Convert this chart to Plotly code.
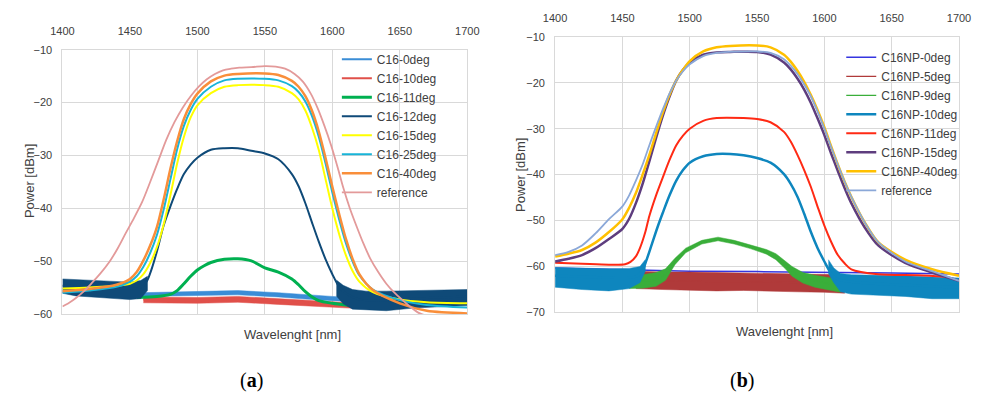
import plotly.graph_objects as go

# ---------------- Panel (a) data ----------------
a_legend = ["C16-0deg", "C16-10deg", "C16-11deg", "C16-12deg",
            "C16-15deg", "C16-25deg", "C16-40deg", "reference"]

a0_wl = [1440, 1460, 1480, 1500, 1530, 1560, 1580, 1600, 1620, 1640]
a0_p = [-56.4, -56.3, -56.1, -56.0, -55.9, -56.3, -56.7, -57.0, -57.3, -57.5]
a0_hi = [-56.0, -55.9, -55.7, -55.6, -55.5, -55.9, -56.3, -56.6, -56.9, -57.1]
a0_lo = [-56.8, -56.7, -56.5, -56.4, -56.3, -56.7, -57.1, -57.4, -57.7, -57.9]

a10_wl = [1460, 1480, 1500, 1530, 1560, 1590, 1610, 1620]
a10_p = [-57.2, -57.3, -57.3, -57.1, -57.5, -58.0, -58.3, -58.4]
a10_hi = [-56.7, -56.8, -56.8, -56.6, -57.0, -57.5, -57.8, -57.9]
a10_lo = [-57.8, -57.9, -57.9, -57.7, -58.1, -58.5, -58.8, -58.9]

a11_wl = [1455, 1470, 1480, 1485, 1490, 1495, 1500, 1505, 1510, 1520, 1530, 1540,
          1550, 1560, 1570, 1575, 1580, 1585, 1590, 1600, 1610, 1620]
a11_p = [-56.8, -56.6, -56.2, -55.5, -54.2, -52.8, -51.6, -50.8, -50.2, -49.6,
         -49.5, -49.9, -51.2, -52.0, -53.3, -54.4, -55.7, -56.7, -57.4, -57.9,
         -58.2, -58.4]

a12_wl = [1400, 1420, 1440, 1455, 1460, 1463, 1466, 1470, 1475, 1480, 1485, 1490,
          1495, 1500, 1510, 1520, 1530, 1540, 1550, 1560, 1570, 1575, 1580, 1585,
          1590, 1595, 1600, 1605, 1610, 1620, 1640, 1660, 1680, 1700]
a12_p = [-54.6, -54.7, -55.0, -55.1, -54.6, -53.5, -51.5, -48.1, -43.2, -39.6,
         -36.3, -33.5, -31.7, -30.4, -28.9, -28.6, -28.6, -29.1, -29.6, -30.7,
         -33.5, -35.8, -39.0, -42.7, -46.3, -49.6, -52.4, -54.8, -56.0, -57.2,
         -57.3, -57.0, -56.8, -56.6]
# noise envelope of the C16-12deg floor (left and right of the pass band)
a12L_wl = [1400, 1410, 1420, 1430, 1440, 1450, 1458, 1463]
a12L_hi = [-53.3, -53.4, -53.5, -53.6, -53.8, -53.9, -53.6, -52.8]
a12L_lo = [-56.0, -56.5, -56.6, -56.8, -57.0, -57.2, -57.0, -55.5]
a12R_wl = [1603, 1608, 1615, 1625, 1640, 1660, 1680, 1700]
a12R_hi = [-53.5, -54.5, -55.3, -55.6, -55.6, -55.5, -55.4, -55.3]
a12R_lo = [-56.5, -58.0, -59.0, -59.2, -59.3, -58.8, -58.5, -58.3]

a_wl = [1400, 1420, 1440, 1450, 1455, 1460, 1465, 1470, 1475, 1480, 1485, 1490,
        1495, 1500, 1510, 1520, 1530, 1550, 1560, 1570, 1575, 1580, 1585, 1590,
        1595, 1600, 1605, 1610, 1615, 1620, 1630, 1650, 1670, 1700]
a15_p = [-55.1, -54.9, -54.6, -54.2, -53.6, -52.4, -50.3, -47.3, -43.0, -37.5,
         -31.5, -26.5, -22.8, -20.5, -18.2, -17.0, -16.7, -16.7, -17.0, -18.2,
         -19.4, -21.5, -24.8, -29.0, -34.5, -40.0, -44.8, -48.8, -51.8, -53.8,
         -55.8, -57.2, -57.7, -57.9]
a25_p = [-55.9, -55.5, -54.8, -53.8, -52.8, -51.0, -48.4, -45.0, -40.2, -34.5,
         -28.8, -24.4, -21.4, -19.3, -17.0, -15.8, -15.5, -15.5, -15.8, -16.9,
         -18.0, -19.8, -22.6, -26.5, -31.5, -37.0, -42.0, -46.5, -50.0, -52.6,
         -55.3, -57.3, -58.2, -58.7]
a40_p = [-55.6, -55.2, -54.4, -53.3, -52.0, -49.8, -47.0, -43.5, -38.3, -32.5,
         -27.3, -23.1, -20.3, -18.3, -16.0, -14.9, -14.6, -14.5, -14.8, -15.9,
         -17.0, -18.8, -21.6, -25.5, -30.5, -35.9, -41.0, -45.7, -49.5, -52.4,
         -55.4, -57.9, -59.3, -59.8]

aref_wl = [1400, 1405, 1410, 1416, 1422, 1428, 1435, 1441, 1447, 1453, 1459, 1465,
           1471, 1477, 1483, 1489, 1495, 1501, 1507, 1513, 1519, 1525, 1531, 1540,
           1550, 1558, 1565, 1572, 1578, 1584, 1589, 1594, 1599, 1604, 1608, 1613,
           1618, 1623, 1628, 1634, 1640, 1646, 1652, 1658, 1664, 1670]
aref_p = [-58.5, -57.8, -56.9, -55.6, -54.0, -52.3, -50.0, -47.5, -44.6, -41.8,
          -38.8, -35.0, -31.0, -27.0, -23.7, -21.0, -18.8, -17.0, -15.6, -14.6,
          -13.9, -13.6, -13.4, -13.3, -13.1, -13.2, -13.6, -14.6, -16.0, -18.3,
          -21.0, -24.3, -28.0, -32.3, -36.0, -40.0, -43.4, -46.6, -49.4, -52.0,
          -54.2, -55.9, -57.3, -58.6, -59.7, -60.3]

# ---------------- Panel (b) data ----------------
b_legend = ["C16NP-0deg", "C16NP-5deg", "C16NP-9deg", "C16NP-10deg",
            "C16NP-11deg", "C16NP-15deg", "C16NP-40deg", "reference"]

b0_wl = [1400, 1450, 1500, 1550, 1600, 1650, 1700]
b0_p = [-60.3, -60.6, -61.0, -61.1, -61.2, -61.4, -61.6]

b5_wl = [1460, 1480, 1500, 1520, 1540, 1560, 1580, 1600, 1615]
b5_p = [-62.9, -63.1, -63.2, -63.3, -63.3, -63.4, -63.5, -63.6, -63.8]
b5_hi = [-61.0, -61.2, -61.2, -61.3, -61.3, -61.4, -61.5, -61.6, -61.8]
b5_lo = [-64.8, -65.0, -65.2, -65.3, -65.2, -65.3, -65.5, -65.6, -65.8]

b9_wl = [1455, 1465, 1475, 1482, 1489, 1497, 1509, 1521, 1533, 1545, 1557, 1564,
         1571, 1576, 1584, 1593, 1605, 1612]
b9_p = [-63.3, -63.2, -62.8, -61.7, -58.9, -56.5, -54.7, -54.0, -54.7, -55.7,
        -56.8, -57.8, -59.6, -61.0, -62.4, -63.1, -63.8, -64.2]
b9_hi = [-61.8, -61.8, -61.3, -60.5, -58.2, -56.0, -54.3, -53.6, -54.3, -55.3,
         -56.3, -57.2, -58.8, -60.0, -61.3, -61.9, -62.5, -62.8]
b9_lo = [-64.8, -64.7, -64.3, -63.0, -59.6, -57.0, -55.1, -54.4, -55.1, -56.1,
         -57.3, -58.5, -60.5, -62.1, -63.6, -64.5, -65.2, -65.6]

b10_wl = [1400, 1420, 1440, 1460, 1465, 1468, 1472, 1476, 1480, 1485, 1490, 1495,
          1500, 1510, 1520, 1530, 1540, 1550, 1560, 1570, 1575, 1580, 1585, 1590,
          1595, 1600, 1605, 1610, 1630, 1660, 1680, 1700]
b10_p = [-62.0, -62.2, -62.4, -62.2, -60.8, -58.5, -55.0, -51.5, -48.3, -44.5,
         -41.3, -39.0, -37.4, -36.0, -35.5, -35.5, -35.8, -36.4, -37.4, -39.9,
         -42.0, -44.8, -48.5, -52.5, -56.0, -58.9, -61.5, -62.8, -63.6, -64.0,
         -64.3, -64.5]
# noise envelope of the C16NP-10deg floor
b10L_wl = [1400, 1420, 1440, 1455, 1463, 1467]
b10L_hi = [-60.2, -60.4, -60.5, -60.4, -60.0, -58.5]
b10L_lo = [-64.5, -65.0, -65.3, -64.8, -63.5, -61.0]
b10R_wl = [1603, 1607, 1612, 1620, 1640, 1660, 1680, 1700]
b10R_hi = [-58.5, -60.3, -61.5, -61.8, -61.9, -62.0, -62.3, -62.5]
b10R_lo = [-61.5, -63.5, -65.5, -66.0, -66.3, -66.5, -67.0, -67.0]

b11_wl = [1400, 1420, 1440, 1452, 1456, 1460, 1463, 1467, 1470, 1475, 1480, 1485,
          1490, 1495, 1500, 1510, 1520, 1540, 1550, 1560, 1570, 1575, 1580, 1585,
          1590, 1595, 1600, 1605, 1610, 1615, 1620, 1640, 1670, 1690]
b11_p = [-59.2, -59.4, -59.6, -59.5, -59.0, -57.8, -56.0, -52.5, -49.0, -44.5,
         -40.6, -36.8, -33.6, -31.5, -30.0, -28.3, -27.7, -27.7, -27.9, -28.6,
         -30.7, -32.8, -35.7, -39.0, -42.7, -47.0, -51.1, -54.6, -57.5, -59.3,
         -60.6, -61.7, -61.9, -62.2]

b_wl = [1400, 1410, 1420, 1430, 1440, 1450, 1455, 1460, 1465, 1470, 1475, 1480,
        1485, 1490, 1495, 1500, 1510, 1520, 1530, 1550, 1560, 1570, 1575, 1580,
        1585, 1590, 1595, 1600, 1605, 1610, 1615, 1620, 1630, 1640, 1660, 1680,
        1700]
b15_p = [-58.9, -58.3, -57.5, -56.0, -54.0, -51.8, -49.6, -46.2, -42.0, -37.1,
         -32.0, -27.2, -23.0, -19.5, -17.2, -15.6, -13.9, -13.4, -13.3, -13.3,
         -13.9, -15.6, -17.1, -19.1, -21.5, -24.4, -27.8, -31.4, -35.4, -39.2,
         -42.9, -46.2, -51.5, -55.4, -59.2, -61.3, -63.1]
b40_p = [-57.8, -57.2, -56.4, -54.8, -52.5, -49.7, -47.2, -44.0, -40.0, -35.7,
         -31.0, -26.5, -22.6, -19.5, -17.2, -15.3, -13.2, -12.3, -12.0, -11.9,
         -12.3, -13.9, -15.4, -17.4, -19.8, -22.7, -26.0, -29.7, -33.8, -37.8,
         -41.5, -44.8, -50.4, -54.7, -58.5, -60.6, -62.0]
bref_p = [-57.5, -56.8, -55.4, -52.8, -49.7, -46.9, -44.5, -41.3, -37.8, -33.6,
          -29.6, -25.8, -22.3, -19.5, -17.5, -16.0, -14.2, -13.5, -13.3, -13.2,
          -13.5, -14.9, -16.3, -18.1, -20.4, -23.0, -26.3, -30.0, -34.0, -37.8,
          -41.5, -44.8, -50.4, -54.7, -58.9, -61.0, -63.1]

# ---------------- Styles ----------------
a_colors = ["#3A8DD6", "#E0504A", "#00B050", "#0F4A78",
            "#FFFF00", "#18B4D8", "#F98E3A", "#E39A9A"]
b_colors = ["#3535E0", "#B03A3A", "#3AAE3A", "#0E86BE",
            "#FF2A14", "#5E3D7E", "#FFC000", "#8BA8D8"]

FONT = "Liberation Sans, Arial, sans-serif"
TXT = "#404040"

fig = go.Figure()


def band(x, lo, hi, color, xa, ya):
    fig.add_trace(go.Scatter(
        x=list(x) + list(x)[::-1], y=list(hi) + list(lo)[::-1],
        fill="toself", fillcolor=color, mode="lines",
        line=dict(width=0.5, color=color), hoverinfo="skip",
        showlegend=False, xaxis=xa, yaxis=ya))


def line(x, y, name, color, width, xa, ya, legend, shape="spline"):
    fig.add_trace(go.Scatter(
        x=x, y=y, name=name, mode="lines",
        line=dict(color=color, width=width, shape=shape, smoothing=0.8),
        xaxis=xa, yaxis=ya, legend=legend))


# Panel (a)
band(a0_wl, a0_lo, a0_hi, a_colors[0], "x", "y")
line(a0_wl, a0_p, a_legend[0], a_colors[0], 2, "x", "y", "legend")
band(a10_wl, a10_lo, a10_hi, a_colors[1], "x", "y")
line(a10_wl, a10_p, a_legend[1], a_colors[1], 2, "x", "y", "legend")
line(a11_wl, a11_p, a_legend[2], a_colors[2], 3, "x", "y", "legend")
band(a12L_wl, a12L_lo, a12L_hi, a_colors[3], "x", "y")
band(a12R_wl, a12R_lo, a12R_hi, a_colors[3], "x", "y")
line(a12_wl, a12_p, a_legend[3], a_colors[3], 2, "x", "y", "legend")
line(a_wl, a15_p, a_legend[4], a_colors[4], 2, "x", "y", "legend")
line(a_wl, a25_p, a_legend[5], a_colors[5], 2, "x", "y", "legend")
line(a_wl, a40_p, a_legend[6], a_colors[6], 2.5, "x", "y", "legend")
line(aref_wl, aref_p, a_legend[7], a_colors[7], 1.8, "x", "y", "legend")

# Panel (b)
line(b0_wl, b0_p, b_legend[0], b_colors[0], 1.5, "x2", "y2", "legend2", shape="linear")
band(b5_wl, b5_lo, b5_hi, b_colors[1], "x2", "y2")
line(b5_wl, b5_p, b_legend[1], b_colors[1], 1.2, "x2", "y2", "legend2")
band(b9_wl, b9_lo, b9_hi, b_colors[2], "x2", "y2")
line(b9_wl, b9_p, b_legend[2], b_colors[2], 1.2, "x2", "y2", "legend2")
band(b10L_wl, b10L_lo, b10L_hi, b_colors[3], "x2", "y2")
band(b10R_wl, b10R_lo, b10R_hi, b_colors[3], "x2", "y2")
line(b10_wl, b10_p, b_legend[3], b_colors[3], 2.5, "x2", "y2", "legend2")
line(b11_wl, b11_p, b_legend[4], b_colors[4], 2, "x2", "y2", "legend2")
line(b_wl, b15_p, b_legend[5], b_colors[5], 2.5, "x2", "y2", "legend2")
line(b_wl, b40_p, b_legend[6], b_colors[6], 2.5, "x2", "y2", "legend2")
line(b_wl, bref_p, b_legend[7], b_colors[7], 1.8, "x2", "y2", "legend2")

W, H = 983, 399


def px(v):
    return v / W


def py(v):
    return 1 - v / H


xcommon = dict(range=[1400, 1700], dtick=50, side="top", showgrid=True,
               gridcolor="#D9D9D9", gridwidth=1, showline=True, mirror=True,
               linecolor="#D9D9D9", ticks="", zeroline=False, ticklabelstandoff=9,
               tickfont=dict(family=FONT, size=11, color=TXT))
ycommon = dict(dtick=10, showgrid=True, gridcolor="#D9D9D9", gridwidth=1,
               showline=True, mirror=True, linecolor="#D9D9D9", ticks="",
               zeroline=False, ticklabelstandoff=7,
               tickfont=dict(family=FONT, size=11, color=TXT))

legcommon = dict(bgcolor="rgba(0,0,0,0)", borderwidth=0,
                 font=dict(family=FONT, size=12, color=TXT),
                 tracegroupgap=0, itemwidth=30, xanchor="left", yanchor="top")

fig.update_layout(
    width=W, height=H, margin=dict(l=0, r=0, t=0, b=0),
    paper_bgcolor="white", plot_bgcolor="white",
    xaxis=dict(domain=[px(51.7), px(466.7)], anchor="y", **xcommon),
    yaxis=dict(domain=[py(318), py(45)], anchor="x", range=[-60, -10], **ycommon),
    xaxis2=dict(domain=[px(556.7), px(970.7)], anchor="y2", **xcommon),
    yaxis2=dict(domain=[py(316), py(31.7)], anchor="x2", range=[-70, -10], **ycommon),
    legend=dict(x=px(333), y=py(40), **legcommon),
    legend2=dict(x=px(850), y=py(38), **legcommon),
    showlegend=True,
)

annots = [
    dict(x=px(18), y=py(181), text="Power [dBm]", textangle=-90, font=dict(size=13)),
    dict(x=px(522), y=py(174), text="Power [dBm]", textangle=-90, font=dict(size=13)),
    dict(x=px(288), y=py(339), text="Wavelenght [nm]", font=dict(size=13)),
    dict(x=px(792), y=py(336), text="Wavelenght [nm]", font=dict(size=13)),
    dict(x=px(245), y=py(386), text="(<b>a</b>)",
         font=dict(family="Liberation Serif, serif", size=20, color="black")),
    dict(x=px(748), y=py(386), text="(<b>b</b>)",
         font=dict(family="Liberation Serif, serif", size=20, color="black")),
]
for a in annots:
    f = dict(family=FONT, color=TXT)
    f.update(a.pop("font"))
    fig.add_annotation(xref="paper", yref="paper", showarrow=False,
                       xanchor="center", yanchor="middle", font=f, **a)

fig.write_html("out.html")
